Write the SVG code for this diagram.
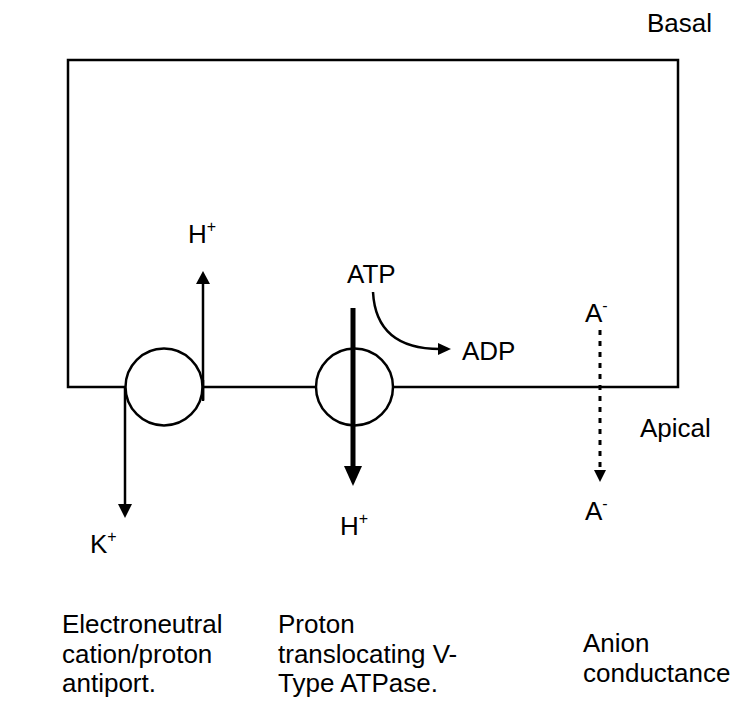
<svg xmlns="http://www.w3.org/2000/svg" width="734" height="710" viewBox="0 0 734 710">
<style>
  text { font-family: "Liberation Sans", Arial, Helvetica, sans-serif; font-size: 26px; fill: #000; }
  .sup { font-size: 16px; }
  .line { fill: none; stroke: #000; stroke-width: 2.5; }
  .circ { fill: #fff; stroke: #000; stroke-width: 2.5; }
  .head { fill: #000; stroke: none; }
</style>
<rect x="0" y="0" width="734" height="710" fill="#fff"/>
<g id="cell">
  <rect class="line" x="68" y="60" width="610" height="327"/>
</g>
<g id="connectors">
  <!-- antiport arrows -->
  <line class="line" x1="203" y1="400" x2="203" y2="282"/>
  <polygon class="head" points="203,271 196,284 210,284"/>
  <line class="line" x1="125" y1="387" x2="125" y2="506"/>
  <polygon class="head" points="125,518 118,504 132,504"/>
  <!-- ATPase -->
  <path class="line" d="M373,292 Q376,349 440,349"/>
  <polygon class="head" points="451,349 438,343 438,355"/>
  <!-- anion dotted -->
  <line x1="600" y1="330" x2="600" y2="470" stroke="#000" stroke-width="3" stroke-dasharray="5 6"/>
  <polygon class="head" points="600,482 594,470 606,470"/>
</g>
<g id="antiport">
  <circle class="circ" cx="164" cy="387" r="38.5"/>
  <line class="line" x1="203" y1="380" x2="203" y2="401"/>
</g>
<g id="atpase">
  <circle class="circ" cx="354.5" cy="387" r="38.5"/>
  <line x1="353" y1="308" x2="353" y2="470" stroke="#000" stroke-width="5"/>
  <polygon class="head" points="353,486 344,466 362,466"/>
</g>
<g id="labels">
  <text x="647" y="32">Basal</text>
  <text x="640" y="437">Apical</text>
  <text x="188" y="243">H<tspan class="sup" dy="-11">+</tspan></text>
  <text x="90" y="553">K<tspan class="sup" dy="-11">+</tspan></text>
  <text x="347" y="283">ATP</text>
  <text x="462" y="360">ADP</text>
  <text x="340" y="535">H<tspan class="sup" dy="-11">+</tspan></text>
  <text x="585" y="322">A<tspan class="sup" dy="-11">-</tspan></text>
  <text x="585" y="520">A<tspan class="sup" dy="-11">-</tspan></text>
</g>
<g id="captions">
  <text x="62" y="633">Electroneutral</text>
  <text x="62" y="663">cation/proton</text>
  <text x="62" y="692">antiport.</text>
  <text x="278" y="633">Proton</text>
  <text x="278" y="663">translocating V-</text>
  <text x="278" y="692">Type ATPase.</text>
  <text x="583" y="652">Anion</text>
  <text x="583" y="682">conductance</text>
</g>
</svg>
